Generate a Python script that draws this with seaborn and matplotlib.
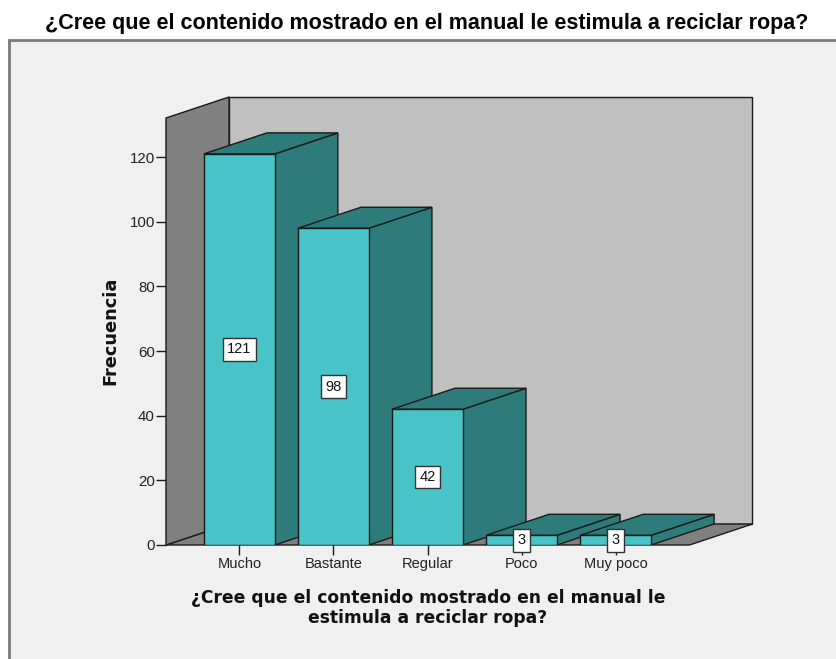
import matplotlib
matplotlib.use("Agg")
import matplotlib.pyplot as plt
from matplotlib.patches import Polygon, Rectangle
import seaborn as sns
import pandas as pd

categories = ["Mucho", "Bastante", "Regular", "Poco", "Muy poco"]
counts = [121, 98, 42, 3, 3]
yticks = [0, 20, 40, 60, 80, 100, 120]
title = "¿Cree que el contenido mostrado en el manual le estimula a reciclar ropa?"
xlabel = "¿Cree que el contenido mostrado en el manual le\nestimula a reciclar ropa?"
ylabel = "Frecuencia"

sns.set_style("white")
plt.rcParams["font.family"] = ["Liberation Sans", "DejaVu Sans"]

FRONT = "#48C4C8"
SIDE = "#2D7B7B"
WALL_SIDE = "#808080"
WALL_BACK = "#C0C0C0"
PANEL = "#F0F0F0"
EDGE = "#1a1a1a"

W, H = 837, 659
fig = plt.figure(figsize=(W / 100, H / 100), dpi=100)
fig.patch.set_facecolor("white")
panel = Rectangle((9 / W, -0.01), 1.0, (H - 40) / H + 0.01,
                  transform=fig.transFigure, facecolor=PANEL,
                  edgecolor="#7a7a7a", linewidth=2, zorder=-5)
fig.patches.append(panel)

ax = fig.add_axes([166 / W, (H - 545) / H, (752.5 - 166) / W, (545 - 97) / H])
ax.set_facecolor("none")
ax.set_zorder(5)

df = pd.DataFrame({"cat": categories, "n": counts})
sns.barplot(data=df, x="cat", y="n", color=FRONT, saturation=1, width=0.754,
            edgecolor=EDGE, linewidth=1.0, ax=ax, zorder=10)

XL, XR = -0.78, 4.785
DX, DY = 0.67, 6.5
WALL_TOP = 132.1
ax.set_xlim(XL, XR + DX)
ax.set_ylim(0, WALL_TOP + DY)

# walls and floor
back = Polygon([(XL + DX, DY), (XR + DX, DY), (XR + DX, WALL_TOP + DY), (XL + DX, WALL_TOP + DY)],
               closed=True, facecolor=WALL_BACK, edgecolor=EDGE, lw=1.0, zorder=2, clip_on=False)
floor = Polygon([(XL, 0), (XR, 0), (XR + DX, DY), (XL + DX, DY)],
                closed=True, facecolor=WALL_SIDE, edgecolor=EDGE, lw=1.0, zorder=3, clip_on=False)
left = Polygon([(XL, 0), (XL + DX, DY), (XL + DX, WALL_TOP + DY), (XL, WALL_TOP)],
               closed=True, facecolor=WALL_SIDE, edgecolor=EDGE, lw=1.0, zorder=4, clip_on=False)
for p in (back, floor, left):
    ax.add_patch(p)

# 3D faces of each bar, drawn left to right
bars = [p for p in ax.patches if p.get_facecolor()[:3] == matplotlib.colors.to_rgb(FRONT)]
bars.sort(key=lambda p: p.get_x())
for i, p in enumerate(bars):
    x0, w, h = p.get_x(), p.get_width(), p.get_height()
    z = 10 + 3 * i
    side = Polygon([(x0 + w, 0), (x0 + w + DX, DY), (x0 + w + DX, h + DY), (x0 + w, h)],
                   closed=True, facecolor=SIDE, edgecolor=EDGE, lw=1.0, zorder=z)
    top = Polygon([(x0, h), (x0 + DX, h + DY), (x0 + w + DX, h + DY), (x0 + w, h)],
                  closed=True, facecolor=SIDE, edgecolor=EDGE, lw=1.0, zorder=z + 1)
    ax.add_patch(side)
    ax.add_patch(top)
    p.set_zorder(z + 2)
    ax.text(x0 + w / 2, h / 2, f"{counts[i]}", ha="center", va="center", fontsize=10.5,
            color="#111111", zorder=60,
            bbox=dict(boxstyle="square,pad=0.3", facecolor="white", edgecolor="#333333", lw=1.0))

for s in ax.spines.values():
    s.set_visible(False)

ax.set_yticks(yticks)
ax.tick_params(axis="y", direction="out", length=7, width=1, color=EDGE, labelsize=10.8,
               labelcolor="#222222", pad=1, left=True)
ax.tick_params(axis="x", direction="out", length=7, width=1, color=EDGE, labelsize=10.5,
               labelcolor="#222222", pad=1.5, bottom=True)
ax.set_xticks(range(len(categories)))
ax.set_xticklabels(categories)

ax.set_ylabel(ylabel, fontsize=12.8, fontweight="bold", family=["DejaVu Sans"], va="center",
              color="#111111")
ax.yaxis.set_label_coords((110 - 166) / 586.5, (545 - 331) / 448)
ax.set_xlabel(xlabel, fontsize=12.3, fontweight="bold", family=["DejaVu Sans"],
              va="center", linespacing=1.12, color="#111111")
ax.xaxis.set_label_coords((428 - 166) / 586.5, (545 - 608) / 448)

fig.text(427 / W, 1 - 23 / H, title, ha="center", va="center", fontsize=15.5,
         fontweight="bold", color="#000000")

fig.savefig("out.png", dpi=100)
